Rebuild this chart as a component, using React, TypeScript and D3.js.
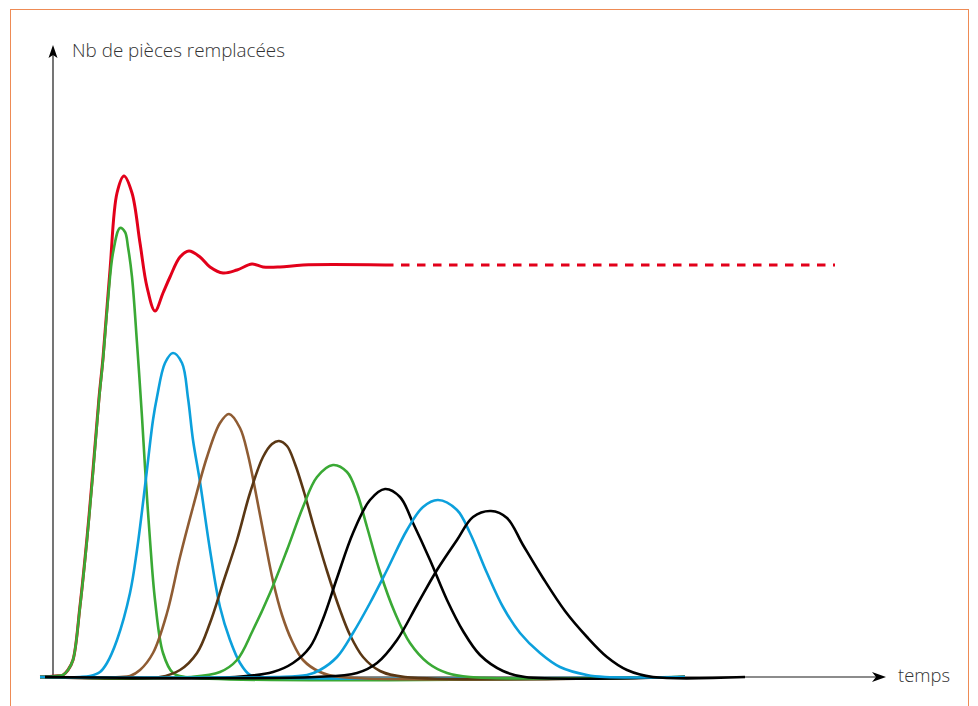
import React from "react";
import * as d3 from "d3";

// time units (t) and number of parts replaced (v)
type P = [number, number];

const generation1: P[] = [[-1.3,0],[0.2,0.1],[1.0,0.2],[1.5,0.7],[2.0,1.7],[2.7,7.0],[3.4,13.7],[4.0,20.4],[4.6,27.7],[5.0,31.7],[5.5,37.7],[6.0,42.4],[6.7,44.9],[7.2,44.5],[7.5,43.0],[7.9,40.0],[8.4,33.4],[8.9,26.0],[9.2,21.0],[9.7,13.7],[10.2,7.7],[11.0,2.4],[12.0,0.4],[13.2,0],[63.2,0]];
const generation2: P[] = [[-1.3,0],[2.7,0],[3.7,0.1],[4.7,0.5],[5.4,1.4],[6.4,3.7],[7.7,8.4],[8.4,12.7],[9.3,19.9],[10.0,25.7],[10.4,28.0],[11.2,31.4],[12.0,32.4],[12.9,31.4],[13.5,27.9],[14.0,23.7],[14.7,19.5],[15.7,12.7],[16.7,7.0],[17.7,3.7],[18.7,1.4],[19.7,0.2],[20.9,0],[63.2,0]];
const generation3: P[] = [[-1.3,0],[6.7,0],[7.7,0.1],[8.7,0.7],[10.0,2.4],[11.4,6.4],[12.7,12.0],[14.0,17.0],[15.4,22.0],[16.7,25.4],[17.6,26.3],[18.7,24.9],[19.5,22.2],[20.3,18.3],[21.2,13.6],[22.0,9.6],[22.9,6.2],[23.9,3.6],[25.0,1.7],[26.7,0.5],[28.7,0],[63.2,0]];
const generation4: P[] = [[-1.3,0],[10.7,0],[12.7,0.7],[14.4,2.4],[15.7,5.4],[17.0,9.4],[18.4,13.7],[19.7,18.4],[21.0,22.0],[21.9,23.3],[22.6,23.6],[23.4,23.1],[24.2,21.3],[25.1,18.5],[26.0,15.3],[27.4,10.6],[28.7,6.7],[29.7,4.2],[31.0,2.0],[32.7,0.6],[35.2,0],[63.2,0]];
const generation5: P[] = [[-1.3,0],[13.7,0],[16.7,0.5],[18.4,1.7],[20.0,4.7],[21.7,8.4],[23.4,12.7],[25.0,17.0],[26.4,20.0],[28.0,21.2],[29.4,20.5],[30.4,18.4],[31.4,15.0],[32.7,10.5],[34.2,6.4],[35.7,3.4],[37.5,1.4],[39.4,0.4],[41.7,0],[63.2,0]];
const generation6: P[] = [[-0.8,0],[18.2,0],[22.0,0.5],[24.0,1.4],[25.7,3.0],[27.0,5.8],[28.4,9.9],[30.0,14.4],[31.7,17.7],[33.2,18.8],[34.7,18.0],[36.0,15.4],[37.7,11.7],[39.4,7.7],[41.0,4.6],[42.7,2.2],[45.0,0.6],[47.2,0],[63.2,0]];
const generation7: P[] = [[-1.3,0],[22.2,0],[25.4,0.2],[26.7,0.7],[28.4,2.0],[30.0,4.4],[31.7,7.4],[33.4,10.7],[35.4,14.7],[37.0,17.0],[38.5,17.7],[40.4,16.7],[41.7,14.4],[43.4,10.4],[45.0,7.0],[46.7,4.4],[48.7,2.4],[50.7,1.0],[53.4,0.2],[55.2,0],[63.2,0]];
const generation8: P[] = [[-0.8,0],[26.2,0],[30.4,0.4],[32.4,1.4],[34.4,3.7],[36.4,7.2],[38.4,10.7],[40.4,13.7],[42.0,16.0],[43.8,16.6],[45.4,15.9],[47.0,13.2],[49.0,9.9],[51.2,6.6],[53.4,4.0],[55.4,2.0],[57.4,0.7],[60.0,0],[69.2,0]];
const totalReplaced: P[] = [[-1.3,0],[0.2,0.1],[1.0,0.2],[1.5,0.7],[2.0,1.7],[2.7,7.1],[3.4,13.9],[4.0,20.7],[4.6,27.9],[5.0,31.9],[5.7,40.7],[6.4,48.4],[7.1,50.1],[7.9,48.4],[8.7,43.4],[9.4,39.0],[10.2,36.6],[11.0,38.4],[11.7,40.0],[12.7,42.0],[13.6,42.6],[14.7,42.0],[15.7,41.0],[17.0,40.4],[18.4,40.7],[19.9,41.3],[21.0,41.0],[22.7,41.0],[25.0,41.2],[33.2,41.2]];
const totalExtrapolated: P[] = [[33.2,41.2],[78.2,41.2]];

const generationColors = ["#3aa935", "#0ca0dc", "#8f5c33", "#5a3714", "#3aa935", "#000000", "#0ca0dc", "#000000"];
const generations = [generation1, generation2, generation3, generation4, generation5, generation6, generation7, generation8];

const yLabel = "Nb de pièces remplacées";
const xLabel = "temps";

const W = 978;
const H = 706;

export default function App() {
  const x = d3.scaleLinear().domain([0, 83.3]).range([53, 886]);
  const y = d3.scaleLinear().domain([0, 63.2]).range([677, 45]);
  const line = d3
    .line<P>()
    .x((d) => x(d[0]))
    .y((d) => y(d[1]))
    .curve(d3.curveCatmullRom.alpha(0.5));

  const x0 = x(0);
  const y0 = y(0);
  const xTip = x(83.3);
  const yTip = y(63.2);

  const font = "'Open Sans', 'Noto Sans', sans-serif";

  return (
    <svg
      width={W}
      height={H}
      viewBox={`0 0 ${W} ${H}`}
      style={{ position: "absolute", left: 0, top: 0, background: "#fff" }}
    >
      <rect x={10.5} y={9.5} width={958} height={710} fill="none" stroke="#ee8b55" strokeWidth={1} />

      {/* axes */}
      <line x1={x0} y1={y0} x2={x0} y2={yTip + 8} stroke="#1a1a1a" strokeWidth={1.2} />
      <path
        d={`M${x0},${yTip} L${x0 + 4.5},${yTip + 13} L${x0},${yTip + 10} L${x0 - 4.5},${yTip + 13} Z`}
        fill="#000"
      />
      <line x1={x0} y1={y0} x2={xTip - 8} y2={y0} stroke="#1a1a1a" strokeWidth={1.2} />
      <path
        d={`M${xTip},${y0} L${xTip - 14},${y0 - 5} L${xTip - 10},${y0} L${xTip - 14},${y0 + 5} Z`}
        fill="#000"
      />

      {/* total replacements */}
      <path d={line(totalReplaced) || ""} fill="none" stroke="#e2001a" strokeWidth={3} strokeLinejoin="round" />
      <path
        d={line(totalExtrapolated) || ""}
        fill="none"
        stroke="#e2001a"
        strokeWidth={3}
        strokeDasharray="8.5 7.5"
      />

      {/* generations */}
      {generations.map((g, i) => (
        <path
          key={i}
          d={line(g) || ""}
          fill="none"
          stroke={generationColors[i]}
          strokeWidth={2.6}
          strokeLinejoin="round"
        />
      ))}

      <text x={72} y={57} fontFamily={font} fontSize={18} fontWeight={300} fill="#333" textLength={213} lengthAdjust="spacingAndGlyphs">
        {yLabel}
      </text>
      <text x={898} y={682} fontFamily={font} fontSize={18} fontWeight={300} fill="#333" textLength={52} lengthAdjust="spacingAndGlyphs">
        {xLabel}
      </text>
    </svg>
  );
}
